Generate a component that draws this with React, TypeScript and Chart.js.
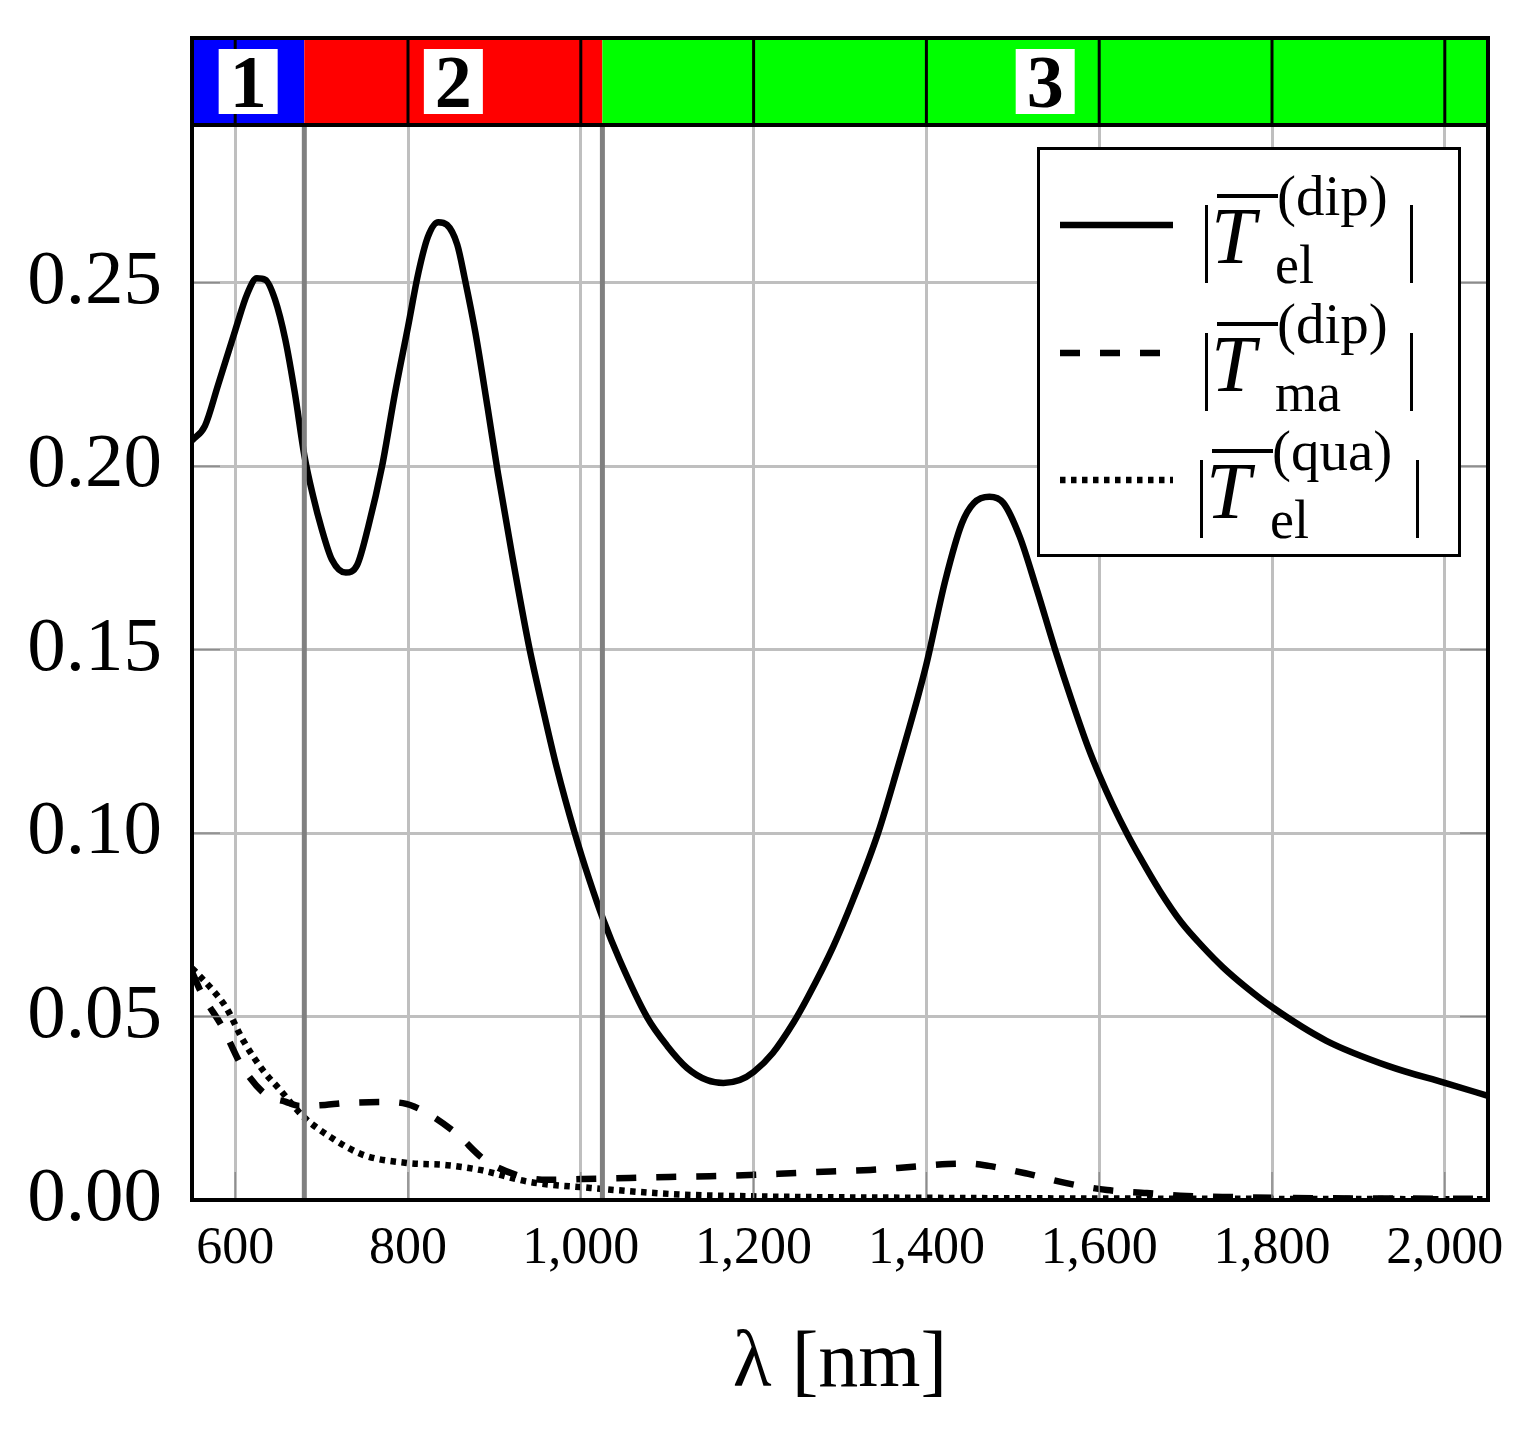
import React, { useEffect, useRef } from "react";
import { Chart, registerables } from "chart.js";

Chart.register(...registerables);

// wavelength samples [nm] and values for each curve
const lambdaEl = [
  550, 565, 580, 600, 614, 625, 635, 646, 658, 669, 680, 690, 700, 712, 728, 741, 754, 770, 785, 800,
  812, 823, 835, 845, 857, 866, 878, 892, 904, 920, 940, 956, 972, 993, 1010, 1026, 1045, 1077, 1100, 1123,
  1146, 1165, 1184, 1200, 1222, 1246, 1263, 1292, 1315, 1344, 1366, 1390, 1400, 1422, 1441, 1455, 1473, 1489,
  1508, 1527, 1549, 1568, 1587, 1600, 1616, 1633, 1647, 1670, 1695, 1720, 1743, 1770, 1800, 1863, 1935, 2000,
  2050,
];
const tElDip = [
  0.207, 0.211, 0.222, 0.237, 0.247, 0.2512, 0.2508, 0.2455, 0.2345, 0.22, 0.203, 0.192, 0.183, 0.1745, 0.171,
  0.173, 0.1835, 0.2, 0.22, 0.238, 0.2527, 0.2625, 0.2665, 0.2658, 0.2604, 0.2508, 0.2364, 0.2162, 0.1982,
  0.1764, 0.151, 0.134, 0.118, 0.1, 0.0872, 0.0764, 0.0654, 0.0497, 0.042, 0.036, 0.0327, 0.0319, 0.0327,
  0.0349, 0.04, 0.0483, 0.0554, 0.069, 0.0818, 0.1, 0.1172, 0.137, 0.146, 0.169, 0.1844, 0.19, 0.1917, 0.19,
  0.1808, 0.167, 0.15, 0.1363, 0.1235, 0.1159, 0.1075, 0.0995, 0.0935, 0.0843, 0.0757, 0.069, 0.0635, 0.058,
  0.0526, 0.0434, 0.0365, 0.0319, 0.0284,
];

const lambdaMa = [
  550, 561, 586, 607, 636, 658, 675, 704, 725, 771, 794, 816, 855, 889, 926, 961, 1000, 1056, 1102, 1149,
  1195, 1243, 1289, 1335, 1381, 1425, 1450, 1472, 1518, 1562, 1609, 1655, 1701, 1754, 1850, 1950, 2050,
];
const tMaDip = [
  0.0622, 0.0564, 0.0468, 0.0368, 0.0286, 0.0268, 0.0256, 0.0259, 0.0264, 0.0267, 0.0264, 0.0245, 0.0183,
  0.0109, 0.0068, 0.0055, 0.0057, 0.006, 0.0063, 0.0065, 0.0068, 0.0073, 0.0078, 0.0082, 0.009, 0.0098, 0.0099,
  0.0093, 0.0071, 0.0046, 0.0027, 0.0019, 0.0011, 0.0008, 0.0005, 0.0004, 0.0003,
];

const lambdaQua = [550, 574, 590, 609, 632, 652, 679, 710, 748, 799, 845, 883, 941, 1011, 1107, 1200, 1400, 1600, 1800, 2050];
const tElQua = [
  0.0632, 0.0572, 0.0523, 0.0436, 0.0354, 0.03, 0.0227, 0.0172, 0.0123, 0.0101, 0.0095, 0.0082, 0.0049, 0.0033,
  0.0016, 0.001, 0.0006, 0.0004, 0.0003, 0.0002,
];

const xTickValues = [600, 800, 1000, 1200, 1400, 1600, 1800, 2000];
const yTickValues = [0, 0.05, 0.1, 0.15, 0.2, 0.25];

// coloured regions on top of the plot
const regionBounds = [550, 680, 1025, 2050];
const regionColors = ["#0000ff", "#ff0000", "#00ff00"];
const regionLabels = ["1", "2", "3"];

const legendLabels = [
  { sup: "(dip)", sub: "el" },
  { sup: "(dip)", sub: "ma" },
  { sup: "(qua)", sub: "el" },
];

const FONT = "'Liberation Serif', 'DejaVu Serif', serif";
const BAND_H = 87;

const zip = (xs: number[], ys: number[]) => xs.map((x, i) => ({ x, y: ys[i] }));

const bandPlugin = {
  id: "bandPlugin",
  afterDatasetsDraw(chart: any) {
    const { ctx, chartArea: a, scales } = chart;
    const xs = scales.x;
    const ys = scales.y;
    const bandTop = a.top - BAND_H;
    const line = (x0: number, y0: number, x1: number, y1: number) => {
      ctx.beginPath();
      ctx.moveTo(x0, y0);
      ctx.lineTo(x1, y1);
      ctx.stroke();
    };
    ctx.save();

    // grey separators between regions
    ctx.strokeStyle = "#808080";
    ctx.lineWidth = 5;
    for (let i = 1; i < regionBounds.length - 1; i++) {
      const px = xs.getPixelForValue(regionBounds[i]);
      line(px, a.top, px, a.bottom);
    }

    // small inner tick marks
    ctx.strokeStyle = "#8c8c8c";
    ctx.lineWidth = 1.5;
    xTickValues.forEach((v) => {
      const px = xs.getPixelForValue(v);
      line(px, a.bottom, px, a.bottom - 28);
    });
    yTickValues.forEach((v) => {
      const py = ys.getPixelForValue(v);
      line(a.left, py, a.left + 28, py);
      line(a.right, py, a.right - 28, py);
    });

    // region band
    for (let i = 0; i < regionColors.length; i++) {
      const x0 = xs.getPixelForValue(regionBounds[i]);
      const x1 = xs.getPixelForValue(regionBounds[i + 1]);
      ctx.fillStyle = regionColors[i];
      ctx.fillRect(x0, bandTop, x1 - x0, BAND_H);
    }
    ctx.strokeStyle = "#000";
    ctx.lineWidth = 3;
    xTickValues.forEach((v) => {
      const px = xs.getPixelForValue(v);
      line(px, bandTop, px, a.top);
    });

    ctx.font = `bold 74px ${FONT}`;
    ctx.textAlign = "center";
    ctx.textBaseline = "alphabetic";
    const cy = bandTop + BAND_H / 2;
    for (let i = 0; i < regionLabels.length; i++) {
      const cx = xs.getPixelForValue((regionBounds[i] + regionBounds[i + 1]) / 2);
      ctx.fillStyle = "#fff";
      ctx.fillRect(cx - 29.5, cy - 32.5, 59, 65);
      ctx.fillStyle = "#000";
      ctx.fillText(regionLabels[i], cx, cy + 25);
    }

    // frame
    ctx.strokeStyle = "#000";
    ctx.lineWidth = 4;
    ctx.strokeRect(a.left, bandTop, a.right - a.left, a.bottom - bandTop);
    line(a.left, a.top, a.right, a.top);
    ctx.restore();
  },
};

const entryPos = [
  { top: 205, barL: 1205, barR: 1410 },
  { top: 333, barL: 1205, barR: 1410 },
  { top: 460, barL: 1200, barR: 1416 },
];
const entryDash = ["", "20 20", "5.5 5.5"];

function Legend() {
  const txt: React.CSSProperties = {
    position: "absolute",
    fontFamily: FONT,
    lineHeight: 1,
    whiteSpace: "nowrap",
    color: "#000",
  };
  return (
    <>
      <div
        style={{
          position: "absolute",
          left: 1037,
          top: 147,
          width: 424,
          height: 410,
          border: "3.5px solid #000",
          boxSizing: "border-box",
          background: "#fff",
        }}
      />
      {legendLabels.map((lab, i) => {
        const p = entryPos[i];
        return (
          <React.Fragment key={i}>
            <svg style={{ position: "absolute", left: 1060, top: p.top + 15 }} width={113} height={10}>
              <line x1={0} y1={5} x2={113} y2={5} stroke="#000" strokeWidth={6.5} strokeDasharray={entryDash[i] || undefined} />
            </svg>
            <div style={{ position: "absolute", left: p.barL, top: p.top, width: 3, height: 78, background: "#000" }} />
            <div style={{ position: "absolute", left: p.barR, top: p.top, width: 3, height: 78, background: "#000" }} />
            <div style={{ position: "absolute", left: p.barL + 12, top: p.top - 11, width: 61, height: 4, background: "#000" }} />
            <span style={{ ...txt, left: p.barL + 6, top: p.top + 58 - 0.8375 * 80, fontSize: 80, fontStyle: "italic" }}>T</span>
            <span style={{ ...txt, left: p.barL + 72, top: p.top + 10 - 0.8375 * 57, fontSize: 57 }}>{lab.sup}</span>
            <span style={{ ...txt, left: p.barL + 70, top: p.top + 78 - 0.8375 * 54, fontSize: 54 }}>{lab.sub}</span>
          </React.Fragment>
        );
      })}
    </>
  );
}

export default function App() {
  const canvasRef = useRef<HTMLCanvasElement>(null);

  useEffect(() => {
    const ctx = canvasRef.current?.getContext("2d");
    if (!ctx) return;
    const lineStyle = {
      borderColor: "#000",
      borderWidth: 6.5,
      pointRadius: 0,
      fill: false,
      cubicInterpolationMode: "monotone" as const,
      borderCapStyle: "butt" as const,
    };
    const chart = new Chart(ctx, {
      type: "line",
      data: {
        datasets: [
          { ...lineStyle, label: "T_el dip", data: zip(lambdaEl, tElDip) },
          { ...lineStyle, label: "T_ma dip", data: zip(lambdaMa, tMaDip), borderDash: [20, 20] },
          { ...lineStyle, label: "T_el qua", data: zip(lambdaQua, tElQua), borderDash: [5.5, 5.5] },
        ],
      },
      options: {
        animation: false,
        responsive: true,
        maintainAspectRatio: false,
        layout: { padding: { top: 125, right: 43, bottom: 0, left: 0 } },
        plugins: { legend: { display: false }, tooltip: { enabled: false } },
        scales: {
          x: {
            type: "linear",
            min: 550,
            max: 2050,
            afterBuildTicks: (s: any) => {
              s.ticks = xTickValues.map((value) => ({ value }));
            },
            afterFit: (s: any) => {
              s.height = 230;
            },
            grid: { color: "#bfbfbf", lineWidth: 3, drawTicks: false },
            border: { display: false },
            ticks: {
              color: "#000",
              font: { family: FONT, size: 52 },
              padding: 18,
              maxRotation: 0,
              autoSkip: false,
              callback: (v: any) => Number(v).toLocaleString("en-US"),
            },
            title: {
              display: true,
              text: "λ [nm]",
              color: "#000",
              font: { family: FONT, size: 80 },
              padding: { top: 0, bottom: 17 },
            },
          },
          y: {
            type: "linear",
            min: 0,
            max: 0.293,
            afterBuildTicks: (s: any) => {
              s.ticks = yTickValues.map((value) => ({ value }));
            },
            afterFit: (s: any) => {
              s.width = 192;
            },
            grid: { color: "#bfbfbf", lineWidth: 3, drawTicks: false },
            border: { display: false },
            ticks: {
              color: "#000",
              font: { family: FONT, size: 77 },
              padding: 30,
              callback: (v: any) => Number(v).toFixed(2),
            },
          },
        },
      },
      plugins: [bandPlugin],
    });
    return () => chart.destroy();
  }, []);

  return (
    <div style={{ position: "absolute", left: 0, top: 0, width: 1531, height: 1430, background: "#fff" }}>
      <canvas ref={canvasRef} style={{ display: "block" }} />
      <Legend />
    </div>
  );
}
